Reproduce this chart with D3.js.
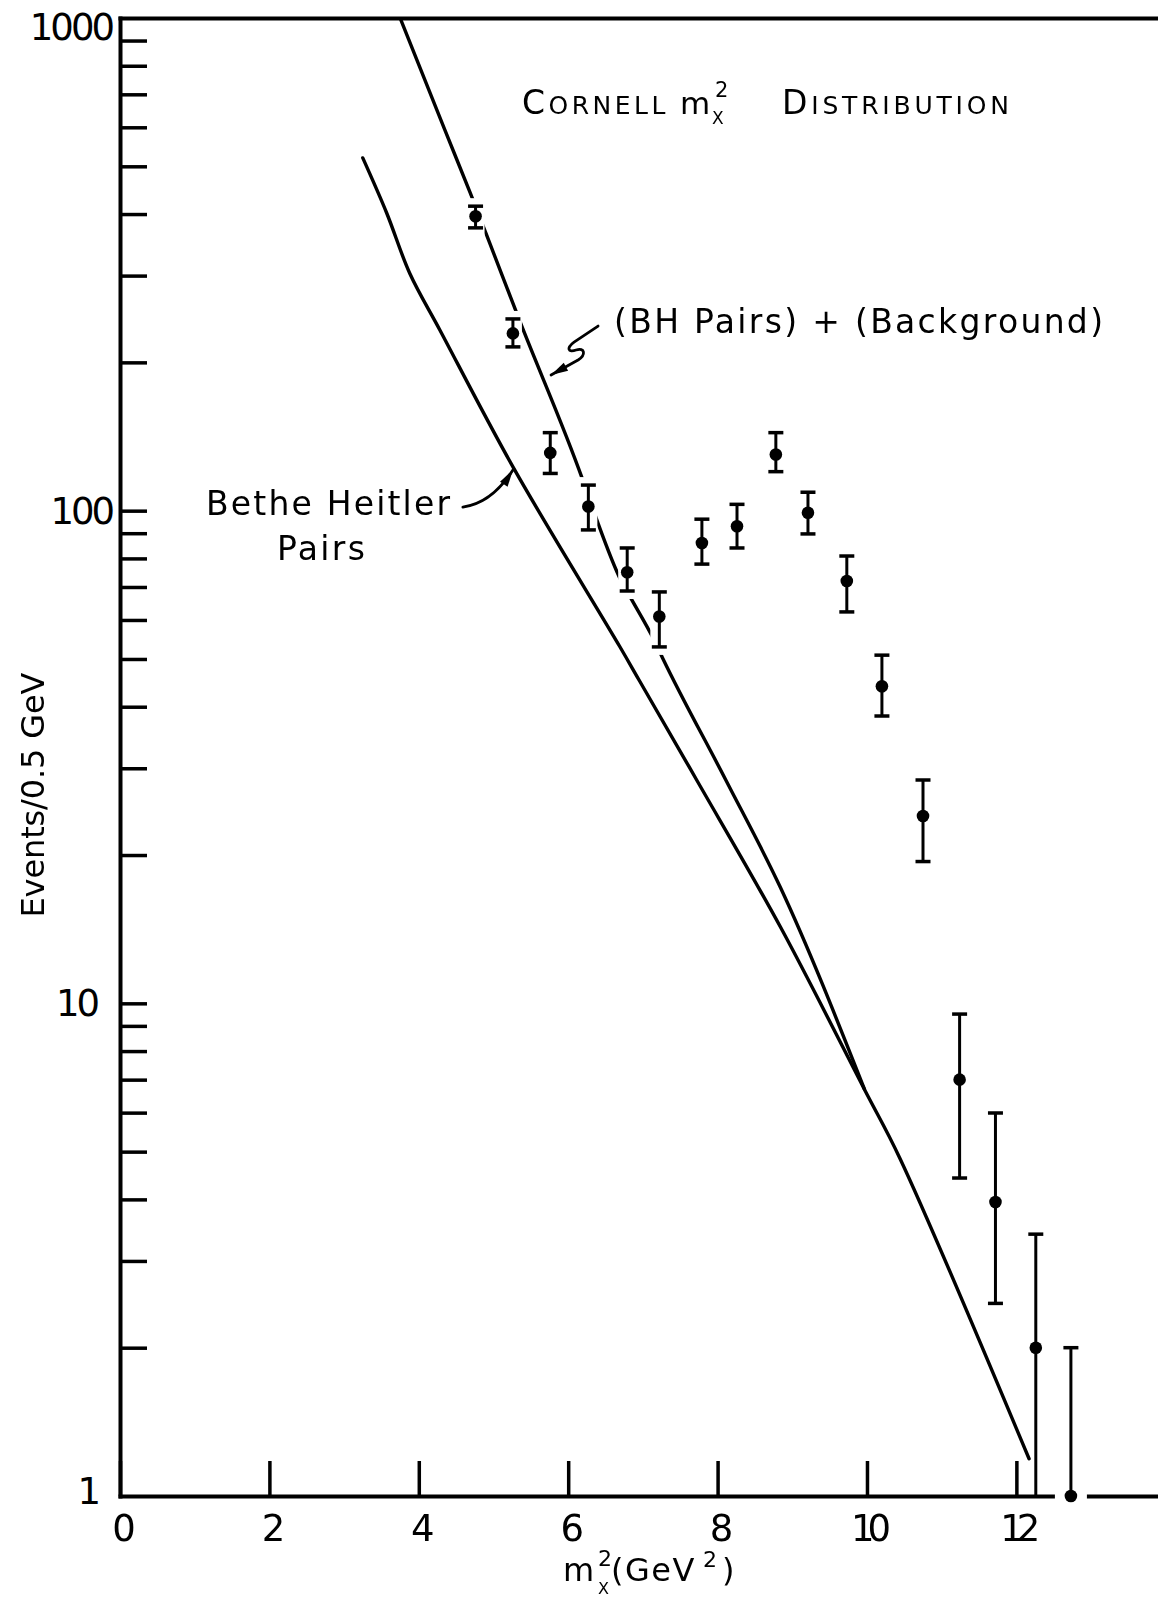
<!DOCTYPE html>
<html>
<head>
<meta charset="utf-8">
<script src="https://cdn.jsdelivr.net/npm/d3@7"></script>
<style>
  html, body { margin: 0; padding: 0; background: #fff; }
  svg { display: block; }
  text { font-family: "DejaVu Sans", "Noto Sans", sans-serif; fill: #000; }
</style>
</head>
<body>
<svg id="chart" width="1158" height="1597"></svg>
<script>
// Cornell m_X^2 distribution: events per 0.5 GeV bin with statistical errors
const binCenters = [4.76, 5.26, 5.76, 6.27, 6.79, 7.22, 7.79, 8.26, 8.78, 9.21, 9.73, 10.2, 10.75, 11.24, 11.72, 12.26, 12.73];
const events     = [396, 229, 131, 102, 75, 61, 86, 93, 130, 99, 72, 44, 24, 7.0, 3.95, 2.0, 1.0];
const errLow     = [375, 215, 119, 91.4, 68.7, 52.9, 77.9, 84, 120, 89.7, 62.3, 38.3, 19.4, 4.42, 2.46, 0.6, 0];
const errHigh    = [415, 245, 144, 112.7, 84, 68.4, 96.1, 103, 144, 109, 80.9, 50.9, 28.4, 9.51, 5.99, 3.40, 2.0];

// Bethe-Heitler pair prediction
const bhX = [3.25, 3.57, 3.88, 4.28, 5.27, 6.69, 6.96, 7.72, 8.84, 9.97, 10.44, 12.17];
const bhY = [520, 402, 303, 233, 122, 53, 45, 28.4, 14.3, 6.67, 4.85, 1.19];

// BH pairs plus background (joins the BH curve near 10 GeV^2)
const totX = [3.75, 4.35, 4.69, 4.91, 5.35, 6.19, 6.37, 6.71, 6.85, 7.14, 7.27, 8.11, 8.84, 9.97];
const totY = [1000, 592, 441, 362, 243, 116, 97, 72, 66, 55, 50, 28.4, 17.2, 6.67];

// Axis ticks
const xTickValues = [0, 2, 4, 6, 8, 10, 12];
const yDecades = [1, 10, 100, 1000];

// ------------------------------------------------------------------
const W = 1158, H = 1597;
const svg = d3.select("#chart");

const x = d3.scaleLinear().domain([0, 13.9]).range([120, 1158.3]);
const y = d3.scaleLog().domain([1, 1000]).range([1496, 18]);

const points = binCenters.map((bx, i) => ({ x: bx, v: events[i], lo: errLow[i], hi: errHigh[i] }));
const bhCurve = bhX.map((v, i) => [v, bhY[i]]);
const totCurve = totX.map((v, i) => [v, totY[i]]);

const defs = svg.append("defs");

// the hand-drawn fit line is broken where it runs through an error bar
const fitMask = defs.append("mask").attr("id", "fit-breaks")
  .attr("maskUnits", "userSpaceOnUse").attr("x", 0).attr("y", 0).attr("width", W).attr("height", H);
fitMask.append("rect").attr("width", W).attr("height", H).attr("fill", "#fff");
fitMask.selectAll("rect.k").data(points).join("rect").attr("class", "k")
  .attr("x", d => x(d.x) - 9).attr("width", 18)
  .attr("y", d => y(d.hi) - 8)
  .attr("height", d => y(Math.max(d.lo, 1)) - y(d.hi) + 16)
  .attr("fill", "#000");

// the baseline is interrupted around a point sitting on it
const axisMask = defs.append("mask").attr("id", "axis-breaks")
  .attr("maskUnits", "userSpaceOnUse").attr("x", 0).attr("y", 0).attr("width", W).attr("height", H);
axisMask.append("rect").attr("width", W).attr("height", H).attr("fill", "#fff");
axisMask.selectAll("rect.k").data(points).join("rect").attr("class", "k")
  .attr("x", d => x(d.x) - 16).attr("width", 32)
  .attr("y", d => y(d.v) - 7).attr("height", 14)
  .attr("fill", "#000");

function styleAxis(g, tickWidth) {
  g.select(".domain").attr("stroke", "#000").attr("stroke-width", 4).attr("stroke-linecap", "square");
  g.selectAll(".tick line").attr("stroke", "#000").attr("stroke-width", tickWidth);
}

// ---- axes ----
// top frame line
svg.append("g").attr("transform", `translate(0,${y(1000)})`)
  .call(d3.axisTop(x).tickValues([]).tickSizeOuter(0))
  .call(g => styleAxis(g, 3));

// left axis with inward log ticks
const yMinor = [];
[1, 10, 100].forEach(dec => { for (let k = 2; k <= 10; k++) yMinor.push(dec * k); });
svg.append("g").attr("transform", `translate(${x(0)},0)`)
  .call(d3.axisLeft(y).tickValues(yMinor.filter(v => v < 1000)).tickSizeInner(-27).tickSizeOuter(0).tickFormat(""))
  .call(g => styleAxis(g, 3.5));

// decade labels
const yLabelPos = { 1000: { end: 112, dy: 22 }, 100: { end: 112, dy: 13 }, 10: { end: 97, dy: 13 }, 1: { end: 98, dy: 8 } };
svg.append("g").selectAll("text").data(yDecades).join("text")
  .attr("x", d => yLabelPos[d].end)
  .attr("y", d => y(d) + yLabelPos[d].dy)
  .attr("text-anchor", "end")
  .attr("font-size", 37)
  .attr("letter-spacing", -3)
  .text(d => d3.format("d")(d));

// bottom axis with upward ticks
svg.append("g").attr("mask", "url(#axis-breaks)")
  .append("g").attr("transform", `translate(0,${y(1)})`)
  .call(d3.axisBottom(x).tickValues(xTickValues).tickSizeInner(-35).tickSizeOuter(0).tickPadding(19).tickFormat(d3.format("d")))
  .call(g => styleAxis(g, 3.5))
  .call(g => g.selectAll(".tick text").attr("font-size", 37).attr("letter-spacing", -7)
    .attr("font-family", "DejaVu Sans").attr("fill", "#000"));

// ---- curves ----
const smooth = d3.line().x(d => x(d[0])).y(d => y(d[1])).curve(d3.curveCatmullRom.alpha(0.5));
const monotone = d3.line().x(d => x(d[0])).y(d => y(d[1])).curve(d3.curveMonotoneX);

svg.append("path").datum(bhCurve)
  .attr("d", smooth).attr("fill", "none").attr("stroke", "#000")
  .attr("stroke-width", 3.4).attr("stroke-linecap", "round").attr("stroke-linejoin", "round");

svg.append("g").attr("mask", "url(#fit-breaks)")
  .append("path").datum(totCurve)
  .attr("d", monotone).attr("fill", "none").attr("stroke", "#000")
  .attr("stroke-width", 3.4).attr("stroke-linecap", "butt").attr("stroke-linejoin", "round");

// ---- data points with error bars ----
const pts = svg.append("g").selectAll("g").data(points).join("g");
pts.append("line")
  .attr("x1", d => x(d.x)).attr("x2", d => x(d.x))
  .attr("y1", d => y(d.hi)).attr("y2", d => y(Math.max(d.lo, 1)))
  .attr("stroke", "#000").attr("stroke-width", 3);
pts.append("line")
  .attr("x1", d => x(d.x) - 7.5).attr("x2", d => x(d.x) + 7.5)
  .attr("y1", d => y(d.hi)).attr("y2", d => y(d.hi))
  .attr("stroke", "#000").attr("stroke-width", 3.5);
pts.filter(d => d.lo >= 1).append("line")
  .attr("x1", d => x(d.x) - 7.5).attr("x2", d => x(d.x) + 7.5)
  .attr("y1", d => y(d.lo)).attr("y2", d => y(d.lo))
  .attr("stroke", "#000").attr("stroke-width", 3.5);
pts.append("circle")
  .attr("cx", d => x(d.x)).attr("cy", d => y(d.v)).attr("r", 6.3).attr("fill", "#000");

// ---- annotations ----
function arrowHead(g, tip, from, len, half) {
  const dx = tip[0] - from[0], dy = tip[1] - from[1];
  const n = Math.hypot(dx, dy), ux = dx / n, uy = dy / n;
  const bx = tip[0] - ux * len, by = tip[1] - uy * len;
  g.append("path")
    .attr("d", `M${tip[0]},${tip[1]}L${bx - uy * half},${by + ux * half}L${bx + uy * half},${by - ux * half}Z`)
    .attr("fill", "#000");
}

// arrow from "Bethe Heitler Pairs" to the BH curve
const bhTail = [x(4.59), y(101.7)], bhTip = [x(5.26), y(121)];
const bhCtrl = [bhTail[0] + 29, bhTail[1] - 4];
const ann = svg.append("g");
ann.append("path")
  .attr("d", `M${bhTail[0]},${bhTail[1]}Q${bhCtrl[0]},${bhCtrl[1]} ${bhTip[0]},${bhTip[1]}`)
  .attr("fill", "none").attr("stroke", "#000").attr("stroke-width", 2.8).attr("stroke-linecap", "round");
arrowHead(ann, bhTip, bhCtrl, 17, 4.5);

// squiggle arrow from "(BH Pairs) + (Background)" to the upper curve
const sqTail = [x(6.40), y(237)];
const sq = ann.append("g").attr("transform", `translate(${sqTail[0]},${sqTail[1]})`);
sq.append("path")
  .attr("d", "M0,0 L-24,16 C-32,22 -30,27 -22,24 C-13,21 -12,29 -20,34 L-47,49")
  .attr("fill", "none").attr("stroke", "#000").attr("stroke-width", 2.8)
  .attr("stroke-linecap", "round").attr("stroke-linejoin", "round");
arrowHead(sq, [-47, 49], [-20, 34], 17, 4.5);

// ---- text ----
// title in small capitals
const title = svg.append("g");
title.append("text").attr("x", 522).attr("y", 114).attr("letter-spacing", 3.5)
  .call(t => { t.append("tspan").attr("font-size", 33).text("C"); t.append("tspan").attr("font-size", 25).text("ORNELL"); });
title.append("text").attr("x", 680).attr("y", 114).attr("font-size", 31).text("m");
title.append("text").attr("x", 715).attr("y", 97).attr("font-size", 21).text("2");
title.append("text").attr("x", 712).attr("y", 124).attr("font-size", 17).text("X");
title.append("text").attr("x", 782).attr("y", 114).attr("letter-spacing", 3.8)
  .call(t => { t.append("tspan").attr("font-size", 33).text("D"); t.append("tspan").attr("font-size", 25).text("ISTRIBUTION"); });

svg.append("text").attr("x", 614).attr("y", 333).attr("font-size", 33)
  .attr("textLength", 489).attr("lengthAdjust", "spacing")
  .text("(BH Pairs) + (Background)");

svg.append("text").attr("x", 206).attr("y", 515).attr("font-size", 33)
  .attr("textLength", 244).attr("lengthAdjust", "spacing").text("Bethe Heitler");
svg.append("text").attr("x", 277).attr("y", 560).attr("font-size", 33)
  .attr("textLength", 88).attr("lengthAdjust", "spacing").text("Pairs");

// y-axis title
svg.append("text")
  .attr("transform", "translate(44,795) rotate(-90)")
  .attr("text-anchor", "middle").attr("font-size", 32)
  .attr("textLength", 245).attr("lengthAdjust", "spacing")
  .text("Events/0.5 GeV");

// x-axis title: m_X^2 (GeV^2)
const xt = svg.append("g");
xt.append("text").attr("x", 563).attr("y", 1581).attr("font-size", 32).text("m");
xt.append("text").attr("x", 598).attr("y", 1566).attr("font-size", 22).text("2");
xt.append("text").attr("x", 598).attr("y", 1594).attr("font-size", 16).text("X");
xt.append("text").attr("x", 611).attr("y", 1581).attr("font-size", 32).attr("letter-spacing", 1.5).text("(GeV");
xt.append("text").attr("x", 703).attr("y", 1567).attr("font-size", 22).text("2");
xt.append("text").attr("x", 722).attr("y", 1581).attr("font-size", 32).text(")");
</script>
</body>
</html>
